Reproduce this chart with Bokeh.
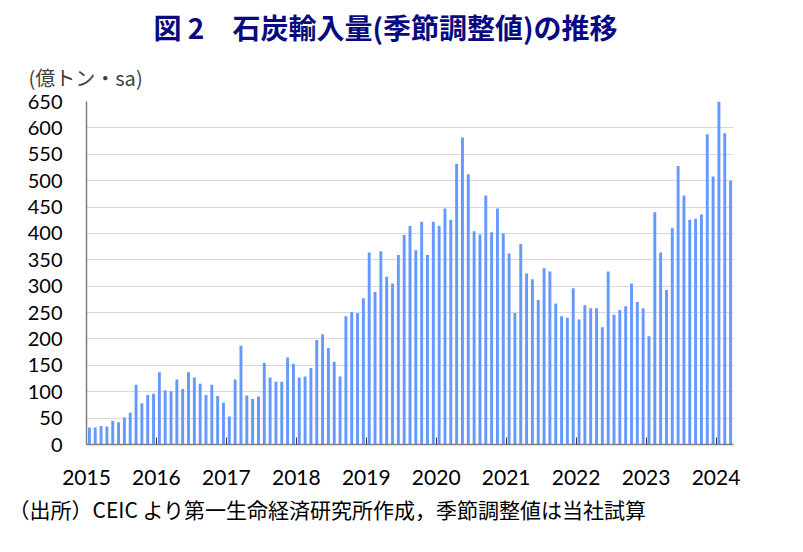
from bokeh.plotting import figure
from bokeh.models import FixedTicker, Range1d, Title
from bokeh.embed import file_html
from bokeh.resources import INLINE

# monthly coal imports, seasonally adjusted (100 million tons), Jan 2015 - Mar 2024
years = ["2015", "2016", "2017", "2018", "2019", "2020", "2021", "2022", "2023", "2024"]
v2015 = [32, 32, 35, 34, 45, 42, 51, 60, 113, 78, 94, 96]
v2016 = [137, 103, 101, 123, 105, 137, 127, 115, 94, 113, 92, 79]
v2017 = [53, 123, 187, 93, 86, 91, 155, 127, 119, 119, 165, 153]
v2018 = [127, 129, 145, 198, 209, 183, 157, 129, 243, 251, 249, 277]
v2019 = [364, 289, 366, 318, 305, 359, 397, 414, 368, 422, 359, 422]
v2020 = [414, 447, 426, 532, 582, 512, 404, 398, 472, 402, 447, 400]
v2021 = [362, 249, 380, 324, 313, 274, 334, 328, 267, 243, 240, 296]
v2022 = [237, 264, 258, 258, 222, 328, 246, 255, 262, 305, 270, 258]
v2023 = [205, 440, 364, 293, 410, 528, 472, 426, 428, 436, 588, 508]
v2024 = [650, 590, 500]

values = v2015 + v2016 + v2017 + v2018 + v2019 + v2020 + v2021 + v2022 + v2023 + v2024
months = [i + 0.5 for i in range(len(values))]

jp = "Noto Sans CJK JP"
num_font = "Lato"

p = figure(width=787, height=536, output_backend="svg", toolbar_location=None,
           x_range=Range1d(0, len(values)), y_range=Range1d(0, 650),
           min_border_left=86, min_border_right=54, min_border_top=0, min_border_bottom=92)
p.outline_line_color = None

p.vbar(x=months, top=values, width=0.5, fill_color="#6699FF", line_color=None)

# axes
p.xaxis.ticker = FixedTicker(ticks=[12 * i for i in range(len(years))])
p.xaxis.major_label_overrides = {12 * i: y for i, y in enumerate(years)}
p.xaxis.major_tick_in = 7
p.xaxis.major_tick_out = 0
p.xaxis.minor_tick_line_color = None
p.xaxis.major_tick_line_color = "#333333"
p.xaxis.axis_line_color = "#808080"
p.xaxis.axis_line_width = 1.5
p.xaxis.major_label_text_font = num_font
p.xaxis.major_label_text_font_size = "21px"
p.xaxis.major_label_text_color = "#000000"
p.xaxis.major_label_standoff = 25

p.yaxis.ticker = FixedTicker(ticks=list(range(0, 651, 50)))
p.yaxis.major_tick_in = 0
p.yaxis.major_tick_out = 0
p.yaxis.minor_tick_line_color = None
p.yaxis.axis_line_color = "#808080"
p.yaxis.axis_line_width = 1.5
p.yaxis.major_label_text_font = num_font
p.yaxis.major_label_text_font_size = "20px"
p.yaxis.major_label_text_color = "#000000"
p.yaxis.major_label_standoff = 24

p.xgrid.grid_line_color = None
p.ygrid.grid_line_color = "#D9D9D9"
p.ygrid.grid_line_width = 1

# titles
p.title.text = ""
unit = Title(text="(億トン・sa)", text_font=jp, text_font_size="20px", text_font_style="normal",
             text_color="#404040", align="left", offset=-58, standoff=19)
p.add_layout(unit, "above")
main = Title(text="図 2　石炭輸入量(季節調整値)の推移", text_font=jp, text_font_size="28px",
             text_font_style="bold", text_color="#0A0A80", align="left", offset=67, standoff=9)
p.add_layout(main, "above")

src = Title(text="（出所）CEIC より第一生命経済研究所作成，季節調整値は当社試算", text_font=jp,
            text_font_size="21px", text_font_style="normal", text_color="#000000",
            align="left", offset=-78, standoff=8)
p.add_layout(src, "below")

open("out.html", "w").write(file_html(p, INLINE))
